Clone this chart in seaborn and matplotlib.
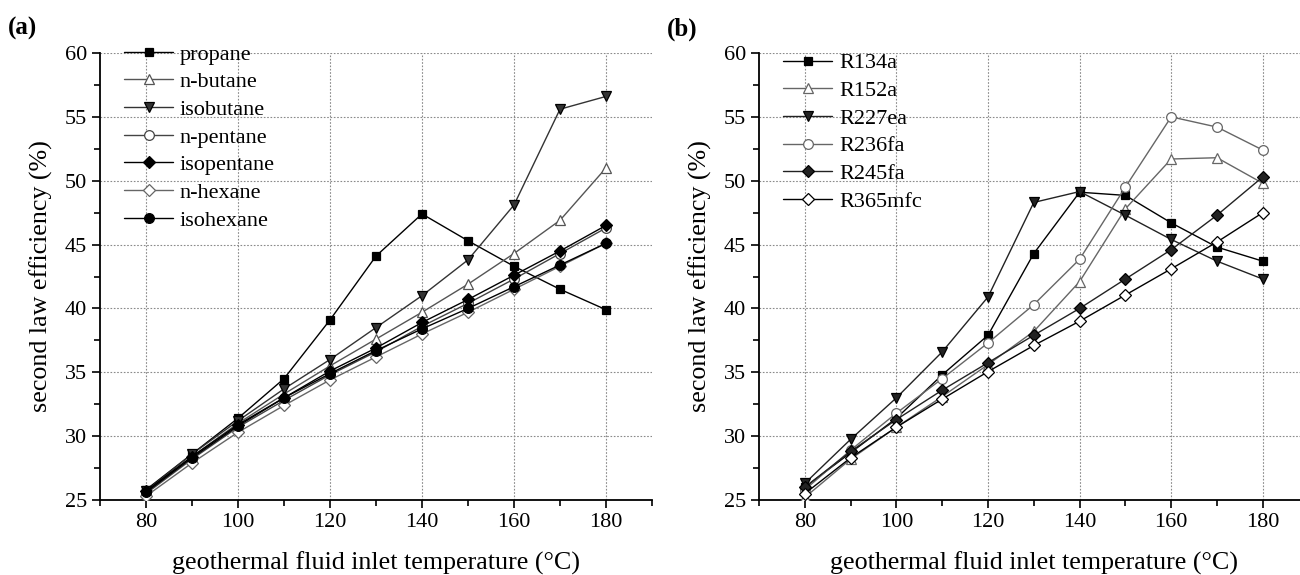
import numpy as np
import pandas as pd
import matplotlib
matplotlib.use("Agg")
import matplotlib.pyplot as plt
from matplotlib.ticker import MultipleLocator
import seaborn as sns

temps = [80, 90, 100, 110, 120, 130, 140, 150, 160, 170, 180]

# Panel (a): hydrocarbons
names_a = ["propane", "n-butane", "isobutane", "n-pentane", "isopentane", "n-hexane", "isohexane"]
propane    = [25.8, 28.6, 31.4, 34.5, 39.1, 44.1, 47.4, 45.3, 43.3, 41.5, 39.9]
n_butane   = [25.6, 28.4, 31.0, 33.3, 35.5, 37.6, 39.7, 41.9, 44.3, 46.9, 51.0]
isobutane  = [25.7, 28.6, 31.2, 33.7, 36.0, 38.5, 41.0, 43.8, 48.1, 55.6, 56.6]
n_pentane  = [25.5, 28.2, 30.7, 32.8, 34.8, 36.6, 38.6, 40.4, 42.3, 44.3, 46.3]
isopentane = [25.7, 28.4, 30.9, 33.0, 35.1, 36.9, 38.9, 40.7, 42.6, 44.5, 46.5]
n_hexane   = [25.3, 27.9, 30.3, 32.4, 34.4, 36.2, 38.0, 39.7, 41.5, 43.3, 45.1]
isohexane  = [25.6, 28.3, 30.8, 33.0, 34.9, 36.7, 38.4, 40.0, 41.7, 43.4, 45.1]
series_a = [propane, n_butane, isobutane, n_pentane, isopentane, n_hexane, isohexane]

# Panel (b): refrigerants
names_b = ["R134a", "R152a", "R227ea", "R236fa", "R245fa", "R365mfc"]
r134a   = [26.0, 28.7, 31.4, 34.8, 37.9, 44.3, 49.1, 48.85, 46.7, 44.8, 43.7]
r152a   = [25.2, 28.2, 30.7, 33.1, 35.6, 38.2, 42.1, 47.8, 51.7, 51.8, 49.8]
r227ea  = [26.3, 29.75, 33.0, 36.6, 40.9, 48.3, 49.15, 47.3, 45.4, 43.7, 42.3]
r236fa  = [25.8, 28.9, 31.8, 34.5, 37.3, 40.3, 43.85, 49.5, 55.0, 54.2, 52.4]
r245fa  = [26.0, 28.8, 31.3, 33.6, 35.75, 37.9, 40.0, 42.3, 44.6, 47.3, 50.3]
r365mfc = [25.5, 28.3, 30.7, 32.9, 35.05, 37.1, 39.0, 41.05, 43.1, 45.2, 47.5]
series_b = [r134a, r152a, r227ea, r236fa, r245fa, r365mfc]

# styles: (marker, filled, line color)
styles_a = [("s", True, "#000000"), ("^", False, "#555555"), ("v", True, "#333333"),
            ("o", False, "#444444"), ("D", True, "#000000"), ("D", False, "#666666"),
            ("o", True, "#000000")]
styles_b = [("s", True, "#000000"), ("^", False, "#666666"), ("v", True, "#222222"),
            ("o", False, "#666666"), ("D", True, "#222222"), ("D", False, "#000000")]

sns.set_theme(style="white")
plt.rcParams["font.family"] = ["Liberation Serif", "DejaVu Serif"]
plt.rcParams["text.color"] = "black"
plt.rcParams["axes.labelcolor"] = "black"
plt.rcParams["xtick.color"] = "black"
plt.rcParams["ytick.color"] = "black"

W, H = 1300, 575
fig = plt.figure(figsize=(W / 100, H / 100), dpi=100)

def px_axes(left, right, top, bottom):
    return fig.add_axes([left / W, 1 - bottom / H, (right - left) / W, (bottom - top) / H])

ax_a = px_axes(100, 652, 53, 500)
ax_b = px_axes(759, 1308.6, 53, 500)

def draw(ax, names, series, styles, tag, leg_y):
    for name, vals, (mk, filled, col) in zip(names, series, styles):
        df = pd.DataFrame({"T": temps, "eff": vals})
        ms = 5.5 if mk == "s" else (6 if mk == "D" else 7)
        sns.lineplot(data=df, x="T", y="eff", ax=ax, color=col, lw=1.0,
                     marker=mk, markersize=ms,
                     markerfacecolor=col if filled else "white",
                     markeredgecolor="#000000" if filled else col,
                     markeredgewidth=0.9, label=name, zorder=3)
    ax.set_xlim(70, 190)
    ax.set_ylim(25, 60)
    ax.xaxis.set_major_locator(MultipleLocator(20))
    ax.xaxis.set_minor_locator(MultipleLocator(10))
    ax.yaxis.set_major_locator(MultipleLocator(5))
    ax.yaxis.set_minor_locator(MultipleLocator(2.5))
    ax.grid(True, which="major", linestyle=(0, (1.5, 1.5)), color="#8a8a8a", lw=0.8)
    ax.set_axisbelow(True)
    for s in ["top", "right"]:
        ax.spines[s].set_visible(False)
    for s in ["left", "bottom"]:
        ax.spines[s].set_color("black")
        ax.spines[s].set_linewidth(1.3)
    ax.tick_params(which="major", direction="out", length=6, width=1.2,
                   colors="black", labelcolor="black", labelsize=16, left=True, bottom=True)
    ax.tick_params(which="minor", direction="out", length=4, width=1.2,
                   colors="black", left=True, bottom=True)
    ax.set_xlabel("geothermal fluid inlet temperature (°C)", fontsize=18.7, labelpad=14,
                  color="black")
    ax.set_ylabel("second law efficiency (%)", fontsize=18.7, labelpad=8, color="black")
    leg = ax.legend(loc="upper left", bbox_to_anchor=(0.02, leg_y), frameon=False,
                    fontsize=16, handlelength=2.2, handletextpad=0.3,
                    labelspacing=0.32, borderaxespad=0.2, numpoints=1)
    for t in leg.get_texts():
        t.set_color("black")
    ax.text(-0.167, 1.054, tag, transform=ax.transAxes, fontsize=18,
            fontweight="bold", ha="left", va="center", color="black")

draw(ax_a, names_a, series_a, styles_a, "(a)", 1.05)
draw(ax_b, names_b, series_b, styles_b, "(b)", 1.03)

fig.savefig("out.png", dpi=100)
